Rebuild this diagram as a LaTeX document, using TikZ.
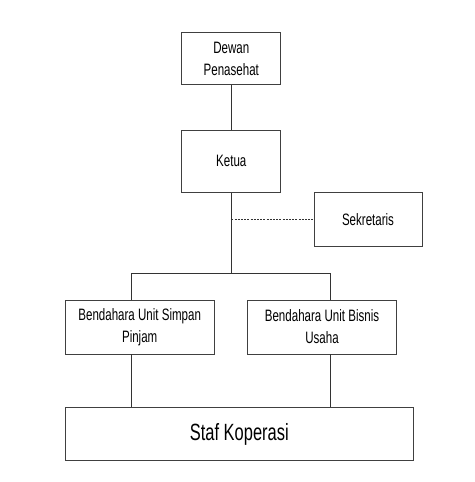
\documentclass[tikz,border=0pt]{standalone}
\usepackage{fontspec}
\setmainfont[FakeStretch=0.7]{Liberation Sans}
\begin{document}
\begin{tikzpicture}[x=1pt,y=-1pt,
    box/.style={draw=black!75,line width=0.9pt,inner sep=0pt,align=center,
      font=\fontsize{16.5}{22}\selectfont},
    link/.style={draw=black!80,line width=0.9pt}]
    \useasboundingbox (0,0) rectangle (474,482);
    % boxes
    \node[box,minimum width=99pt,minimum height=52pt] (dewan) at (231.3,58.9) {Dewan\\Penasehat};
    \node[box,minimum width=99pt,minimum height=62.7pt] (ketua) at (231.3,161.3) {Ketua};
    \node[box,minimum width=108pt,minimum height=54pt] (sek) at (368,219.7) {Sekretaris};
    \node[box,minimum width=149.3pt,minimum height=54pt] (bsp) at (139.7,327) {Bendahara Unit Simpan\\Pinjam};
    \node[box,minimum width=149.3pt,minimum height=54pt] (bbu) at (322,327) {Bendahara Unit Bisnis\\Usaha};
    \node[box,minimum width=348pt,minimum height=53.4pt,font=\fontsize{23.5}{26}\selectfont] (staf) at (239.3,434) {Staf Koperasi};
    % connectors
    \coordinate (tee) at (231.3,273.3);
    \coordinate (sekjoin) at (231.3,219.7);
    \coordinate (colL) at (131.7,273.3);
    \coordinate (colR) at (330,273.3);
    \draw[link] (dewan) -- (ketua);
    \draw[link] (ketua) -- (tee);
    \draw[link,dash pattern=on 2pt off 1.2pt] (sekjoin) -- (sek);
    \draw[link] (bsp.north -| colL) |- (colR) -- (bbu.north -| colR);
    \foreach \c/\b in {colL/bsp,colR/bbu} {
        \draw[link] (\b.south -| \c) -- (staf.north -| \c);
    };
\end{tikzpicture}
\end{document}
